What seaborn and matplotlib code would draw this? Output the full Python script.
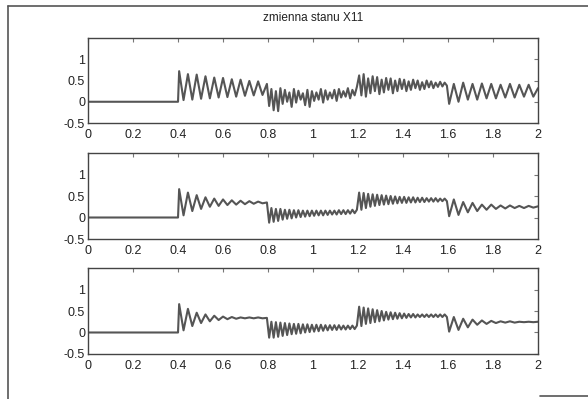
import numpy as np
import pandas as pd
import seaborn as sns
import matplotlib
matplotlib.use("Agg")
import matplotlib.pyplot as plt
from matplotlib.lines import Line2D

# odczytane ekstrema przebiegow (wartosci), kolejne segmenty czasowe
seg_times = [(0.405, 0.795), (0.805, 1.195), (1.205, 1.595), (1.605, 2.0)]

# wykres 1
p1_s1 = [0.72, 0.04, 0.65, 0.05, 0.64, 0.07, 0.60, 0.08, 0.57, 0.10, 0.56,
         0.11, 0.53, 0.12, 0.52, 0.14, 0.49, 0.15, 0.48, 0.16, 0.42]
p1_s2 = [-0.10, 0.30, -0.20, 0.25, -0.22, 0.32, -0.05, 0.28, 0.0, 0.22,
         -0.12, 0.30, -0.02, 0.26, 0.05, 0.20, -0.08, 0.28, -0.12, 0.25,
         0.02, 0.22, 0.05, 0.30, -0.02, 0.27, 0.05, 0.22, 0.08, 0.28,
         0.02, 0.30, 0.10, 0.25, 0.12, 0.32, 0.08, 0.28, 0.15, 0.35]
p1_s3 = [0.62, 0.15, 0.65, 0.12, 0.55, 0.20, 0.60, 0.25, 0.58, 0.18,
         0.52, 0.22, 0.56, 0.28, 0.55, 0.20, 0.50, 0.25, 0.54, 0.30,
         0.52, 0.25, 0.48, 0.28, 0.52, 0.32, 0.50, 0.28, 0.46, 0.30,
         0.50, 0.34, 0.48, 0.32, 0.45, 0.35, 0.47, 0.36, 0.45, 0.38]
p1_s4 = [-0.05, 0.42, 0.0, 0.45, 0.05, 0.42, 0.05, 0.43, 0.08, 0.42,
         0.08, 0.40, 0.10, 0.42, 0.10, 0.40, 0.12, 0.40, 0.12, 0.32]

# wykres 2
p2_s1 = [0.66, 0.05, 0.58, 0.15, 0.52, 0.20, 0.47, 0.25, 0.44, 0.27, 0.42,
         0.29, 0.40, 0.30, 0.39, 0.31, 0.38, 0.32, 0.37, 0.33, 0.35]
p2_s2 = [-0.12, 0.22, -0.10, 0.20, -0.08, 0.20, -0.05, 0.18, -0.03, 0.18,
         -0.02, 0.17, 0.0, 0.17, 0.01, 0.16, 0.02, 0.16, 0.03, 0.16,
         0.04, 0.16, 0.05, 0.16, 0.05, 0.16, 0.06, 0.16, 0.07, 0.16,
         0.07, 0.17, 0.08, 0.17, 0.08, 0.17, 0.09, 0.18, 0.10, 0.18]
p2_s3 = [0.58, 0.18, 0.57, 0.22, 0.55, 0.25, 0.54, 0.27, 0.53, 0.29,
         0.52, 0.30, 0.51, 0.31, 0.50, 0.32, 0.49, 0.33, 0.48, 0.34,
         0.48, 0.34, 0.47, 0.35, 0.47, 0.35, 0.46, 0.36, 0.46, 0.36,
         0.45, 0.37, 0.45, 0.37, 0.45, 0.37, 0.44, 0.38, 0.44, 0.38]
p2_s4 = [0.03, 0.42, 0.06, 0.36, 0.12, 0.34, 0.15, 0.30, 0.18, 0.30,
         0.20, 0.28, 0.21, 0.28, 0.22, 0.27, 0.22, 0.27, 0.23, 0.26]

# wykres 3
p3_s1 = [0.66, 0.05, 0.55, 0.15, 0.46, 0.22, 0.42, 0.26, 0.39, 0.29, 0.37,
         0.31, 0.36, 0.32, 0.35, 0.33, 0.35, 0.33, 0.35, 0.33, 0.34]
p3_s2 = [-0.12, 0.25, -0.12, 0.24, -0.10, 0.23, -0.08, 0.22, -0.06, 0.21,
         -0.04, 0.20, -0.03, 0.20, -0.02, 0.19, 0.0, 0.19, 0.01, 0.18,
         0.02, 0.18, 0.03, 0.18, 0.04, 0.17, 0.05, 0.17, 0.06, 0.17,
         0.06, 0.17, 0.07, 0.16, 0.07, 0.16, 0.08, 0.16, 0.08, 0.16]
p3_s3 = [0.60, 0.15, 0.58, 0.20, 0.56, 0.22, 0.54, 0.24, 0.52, 0.26,
         0.50, 0.28, 0.48, 0.30, 0.47, 0.31, 0.46, 0.32, 0.45, 0.33,
         0.44, 0.34, 0.43, 0.35, 0.43, 0.35, 0.42, 0.36, 0.42, 0.36,
         0.42, 0.36, 0.42, 0.36, 0.42, 0.36, 0.42, 0.36, 0.42, 0.36]
p3_s4 = [0.02, 0.36, 0.06, 0.32, 0.12, 0.30, 0.18, 0.28, 0.20, 0.27,
         0.22, 0.26, 0.23, 0.26, 0.23, 0.25, 0.24, 0.25, 0.24, 0.25]

panels = [[p1_s1, p1_s2, p1_s3, p1_s4],
          [p2_s1, p2_s2, p2_s3, p2_s4],
          [p3_s1, p3_s2, p3_s3, p3_s4]]

x_ticks = [0, 0.2, 0.4, 0.6, 0.8, 1, 1.2, 1.4, 1.6, 1.8, 2]
x_labels = ["0", "0.2", "0.4", "0.6", "0.8", "1", "1.2", "1.4", "1.6", "1.8", "2"]
y_ticks = [-0.5, 0, 0.5, 1]
y_labels = ["-0.5", "0", "0.5", "1"]
title = "zmienna stanu X11"


def build(segments):
    t = [0.0, 0.4]
    v = [0.0, 0.0]
    for (t0, t1), vals in zip(seg_times, segments):
        t.extend(np.linspace(t0, t1, len(vals)))
        v.extend(vals)
    return pd.DataFrame({"t": t, "x": v})


sns.set_theme(style="white")
plt.rcParams['font.family'] = ['Liberation Sans', 'DejaVu Sans']

fig = plt.figure(figsize=(5.88, 3.99), dpi=100)
rects = [[0.1497, 0.6917, 0.7653, 0.213],
         [0.1497, 0.401, 0.7653, 0.2155],
         [0.1497, 0.1128, 0.7653, 0.2155]]

for i, segs in enumerate(panels):
    ax = fig.add_axes(rects[i])
    df = build(segs)
    sns.lineplot(data=df, x="t", y="x", ax=ax, color="#555555", linewidth=1.5,
                 estimator=None, sort=False, solid_joinstyle="round")
    ax.set_xlim(0, 2)
    ax.set_ylim(-0.5, 1.5)
    ax.set_xticks(x_ticks)
    ax.set_xticklabels(x_labels)
    ax.set_yticks(y_ticks)
    ax.set_yticklabels(y_labels)
    ax.set_xlabel("")
    ax.set_ylabel("")
    ax.tick_params(direction="in", top=True, right=True, length=3, width=0.8,
                   color="#777777", labelsize=9, labelcolor="#222222")
    ax.tick_params(axis="x", pad=4)
    ax.tick_params(axis="y", pad=2)
    for s in ax.spines.values():
        s.set_color("#444444")
        s.set_linewidth(1.0)
    if i == 0:
        ax.set_title(title, fontsize=8.5, color="#222222", pad=12)

# ramka skanu
fig.add_artist(Line2D([8 / 588, 8 / 588], [0, 1 - 6 / 399], color="#555555", lw=1.2))
fig.add_artist(Line2D([8 / 588, 1], [1 - 6 / 399, 1 - 6 / 399], color="#555555", lw=1.2))
fig.add_artist(Line2D([540 / 588, 1], [1 - 396 / 399, 1 - 396 / 399], color="#555555", lw=1.2))

fig.savefig("out.png", dpi=100)
plt.close(fig)
